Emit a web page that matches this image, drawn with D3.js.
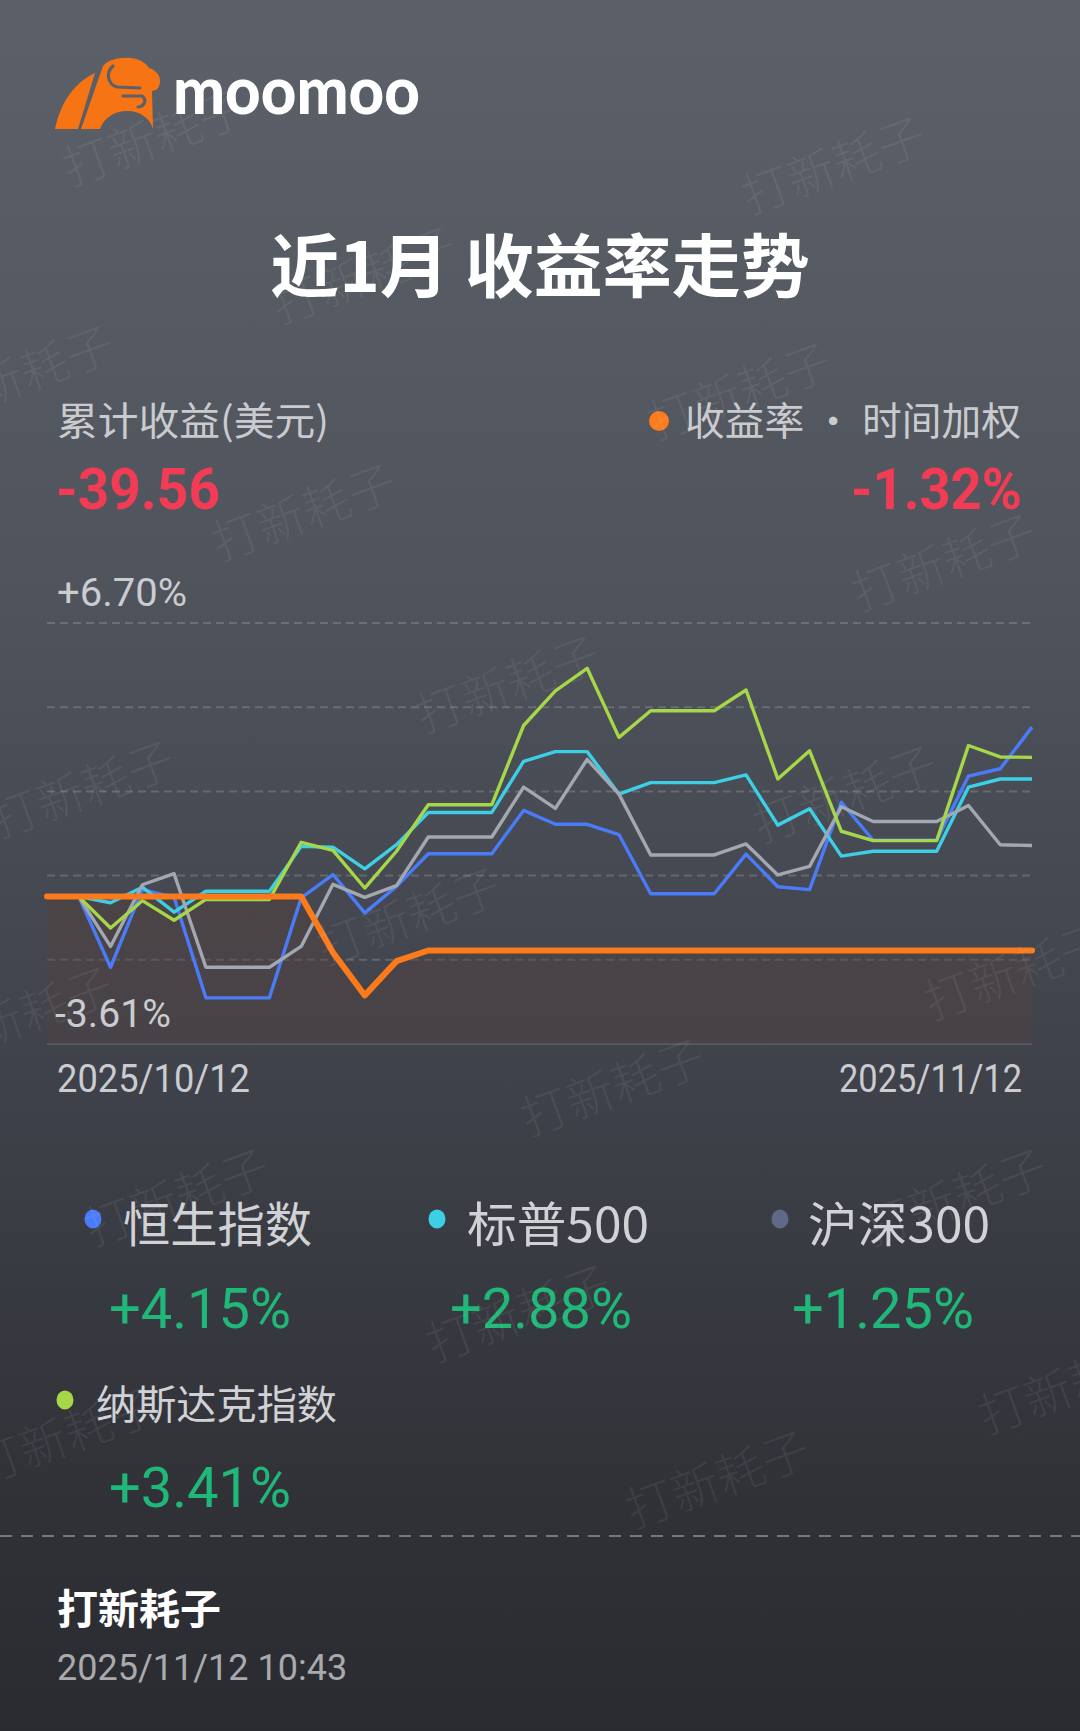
<!DOCTYPE html>
<html>
<head>
<meta charset="utf-8">
<script src="https://cdn.jsdelivr.net/npm/d3@7"></script>
<style>
  html, body { margin: 0; padding: 0; background: #2b2c31; }
  svg { display: block; }
  text { font-family: "Noto Sans CJK SC", Roboto, sans-serif; }
  .num { font-family: Roboto, "Noto Sans CJK SC", sans-serif; }
</style>
</head>
<body>
<svg id="card" width="1080" height="1731"></svg>
<script>
// daily points, 2025/10/12 .. 2025/11/12
var dates = [
  "2025-10-12", "2025-10-13", "2025-10-14", "2025-10-15", "2025-10-16", "2025-10-17", "2025-10-18", "2025-10-19",
  "2025-10-20", "2025-10-21", "2025-10-22", "2025-10-23", "2025-10-24", "2025-10-25", "2025-10-26", "2025-10-27",
  "2025-10-28", "2025-10-29", "2025-10-30", "2025-10-31", "2025-11-01", "2025-11-02", "2025-11-03", "2025-11-04",
  "2025-11-05", "2025-11-06", "2025-11-07", "2025-11-08", "2025-11-09", "2025-11-10", "2025-11-11", "2025-11-12"
];

// 收益率 · 时间加权 (%)
var portfolio = [0, 0, 0, 0, 0, 0, 0, 0, 0, -1.37, -2.42, -1.58, -1.32, -1.32, -1.32, -1.32,
  -1.32, -1.32, -1.32, -1.32, -1.32, -1.32, -1.32, -1.32, -1.32, -1.32, -1.32, -1.32, -1.32, -1.32, -1.32, -1.32];

// benchmark indexes (%), no point on the first day
var hsi = [null, 0, -1.73, 0.17, -0.02, -2.48, -2.48, -2.48, -0.03, 0.54, -0.40, 0.25, 1.05, 1.05, 1.05, 2.11,
  1.77, 1.77, 1.52, 0.07, 0.07, 0.07, 1.04, 0.24, 0.17, 2.31, 1.38, 1.38, 1.38, 2.95, 3.13, 4.15];
var spx = [null, 0, -0.15, 0.23, -0.38, 0.13, 0.13, 0.13, 1.23, 1.21, 0.68, 1.27, 2.06, 2.06, 2.06, 3.31,
  3.55, 3.55, 2.51, 2.79, 2.79, 2.79, 2.98, 1.75, 2.15, 0.99, 1.11, 1.11, 1.11, 2.68, 2.88, 2.88];
var csi = [null, 0, -1.22, 0.29, 0.56, -1.73, -1.73, -1.73, -1.22, 0.30, -0.02, 0.27, 1.46, 1.46, 1.46, 2.68,
  2.16, 3.36, 2.51, 1.02, 1.02, 1.02, 1.29, 0.53, 0.74, 2.20, 1.84, 1.84, 1.84, 2.23, 1.27, 1.25];
var ndx = [null, 0, -0.77, -0.10, -0.58, -0.07, -0.07, -0.07, 1.33, 1.13, 0.21, 1.11, 2.25, 2.25, 2.25, 4.19,
  5.04, 5.59, 3.90, 4.55, 4.55, 4.55, 5.06, 2.88, 3.57, 1.60, 1.37, 1.37, 1.37, 3.70, 3.42, 3.41];

var indexNames = ["恒生指数", "标普500", "沪深300", "纳斯达克指数"];
var indexReturns = ["+4.15%", "+2.88%", "+1.25%", "+3.41%"];

var yDomain = [-3.61, 6.70];
var yTickLabels = ["+6.70%", "-3.61%"];
var xTickLabels = ["2025/10/12", "2025/11/12"];

var totalProfit = "-39.56";
var totalReturn = "-1.32%";

var series = [
  {name: indexNames[0], values: hsi, color: "#4a7bf8", dot: "#4a7bf8"},
  {name: indexNames[1], values: spx, color: "#3ccfe6", dot: "#3ccfe6"},
  {name: indexNames[2], values: csi, color: "#a2a7b2", dot: "#5e6a86"},
  {name: indexNames[3], values: ndx, color: "#a5d748", dot: "#a5d748"}
];

var W = 1080, H = 1731;
var svg = d3.select("#card");
var defs = svg.append("defs");

var bg = defs.append("linearGradient").attr("id", "bg")
    .attr("x1", 0).attr("y1", 0).attr("x2", 0).attr("y2", 1);
bg.append("stop").attr("offset", "0%").attr("stop-color", "#5c6068");
bg.append("stop").attr("offset", "33%").attr("stop-color", "#50545c");
bg.append("stop").attr("offset", "62%").attr("stop-color", "#3f424a");
bg.append("stop").attr("offset", "86%").attr("stop-color", "#313238");
bg.append("stop").attr("offset", "100%").attr("stop-color", "#2a2b30");

var under = defs.append("linearGradient").attr("id", "under")
    .attr("x1", 0).attr("y1", 0).attr("x2", 0).attr("y2", 1);
under.append("stop").attr("offset", "0%").attr("stop-color", "rgb(84,62,58)").attr("stop-opacity", 0.42);
under.append("stop").attr("offset", "100%").attr("stop-color", "rgb(84,66,66)").attr("stop-opacity", 0.38);

svg.append("rect").attr("width", W).attr("height", H).attr("fill", "url(#bg)");

// logo
var logo = svg.append("g");
logo.append("path")
    .attr("d", "M55,129 C59,108 71,84 95,73 L78,129 Z")
    .attr("fill", "#f77414");
logo.append("path")
    .attr("d", "M81,129 L103,66 C108,60 118,57 131,58 C140,59 146,63 149,68 C153,69 157,72 159,76 " +
               "C161,81 160,87 156,90 L152,91 L153,129 C150,118 140,111 127,111 C114,111 104,118 100,129 Z")
    .attr("fill", "#f77414");
logo.append("path")
    .attr("d", "M113,66 C106,72 107,84 117,87 L140,88 M123,96 L142,96 C147,100 145,106 138,107")
    .attr("fill", "none").attr("stroke", "#5c6068").attr("stroke-width", 3.2).attr("stroke-linecap", "round");
logo.append("text")
    .attr("x", 173).attr("y", 114)
    .attr("textLength", 247).attr("lengthAdjust", "spacingAndGlyphs")
    .style("font-family", "Lato, sans-serif").style("font-weight", 900)
    .attr("font-size", 66).attr("fill", "#ffffff")
    .text("moomoo");

svg.append("text")
    .attr("x", 540).attr("y", 292).attr("text-anchor", "middle")
    .attr("font-size", 69).attr("font-weight", 700).attr("fill", "#ffffff")
    .text("近1月 收益率走势");

// header figures
svg.append("text")
    .attr("x", 57).attr("y", 435)
    .attr("font-size", 39).attr("fill", "#c9cbcf")
    .attr("textLength", 272).attr("lengthAdjust", "spacingAndGlyphs")
    .text("累计收益(美元)");
svg.append("text").attr("class", "num")
    .attr("x", 56).attr("y", 509)
    .attr("font-size", 58).attr("font-weight", 700).attr("fill", "#f23b55")
    .attr("textLength", 164).attr("lengthAdjust", "spacingAndGlyphs")
    .text(totalProfit);

svg.append("text")
    .attr("x", 1021).attr("y", 435).attr("text-anchor", "end")
    .attr("font-size", 39).attr("fill", "#c9cbcf")
    .attr("textLength", 336).attr("lengthAdjust", "spacingAndGlyphs")
    .text("收益率 · 时间加权");
svg.append("circle").attr("cx", 659).attr("cy", 421).attr("r", 10).attr("fill", "#fb7b1d");
svg.append("text").attr("class", "num")
    .attr("x", 1022).attr("y", 509).attr("text-anchor", "end")
    .attr("font-size", 58).attr("font-weight", 700).attr("fill", "#f23b55")
    .attr("textLength", 171).attr("lengthAdjust", "spacingAndGlyphs")
    .text(totalReturn);

// chart
var x = d3.scaleTime()
    .domain(d3.extent(dates, function(d) { return new Date(d); }))
    .range([47, 1032]);
var y = d3.scaleLinear().domain(yDomain).range([1044, 623]);

var grid = svg.append("g");
var gridVals = d3.range(6).map(function(i) { return yDomain[1] - i * (yDomain[1] - yDomain[0]) / 5; });
grid.selectAll("line").data(gridVals).join("line")
    .attr("x1", 47).attr("x2", 1032)
    .attr("y1", function(d) { return y(d); }).attr("y2", function(d) { return y(d); })
    .attr("stroke", function(d, i) { return i < 5 ? "rgba(255,255,255,0.17)" : "rgba(255,255,255,0.13)"; })
    .attr("stroke-width", 2)
    .attr("stroke-dasharray", function(d, i) { return i < 5 ? "8,5" : null; });

var points = dates.map(function(d, i) { return {date: new Date(d), v: portfolio[i]}; });

svg.append("path")
    .datum(points)
    .attr("fill", "url(#under)")
    .attr("d", d3.area()
        .x(function(d) { return x(d.date); })
        .y0(y(yDomain[0]))
        .y1(function(d) { return y(d.v); }));

var line = d3.line()
    .defined(function(d) { return d.v != null; })
    .x(function(d) { return x(d.date); })
    .y(function(d) { return y(d.v); });

svg.append("g").selectAll("path")
    .data(series)
    .join("path")
    .attr("fill", "none")
    .attr("stroke", function(s) { return s.color; })
    .attr("stroke-width", 3.4)
    .attr("stroke-linejoin", "round")
    .attr("d", function(s) {
      return line(dates.map(function(d, i) { return {date: new Date(d), v: s.values[i]}; }));
    });

svg.append("path")
    .datum(points)
    .attr("fill", "none")
    .attr("stroke", "#fb7a1c")
    .attr("stroke-width", 6)
    .attr("stroke-linejoin", "round")
    .attr("stroke-linecap", "round")
    .attr("d", line);

// axis labels
svg.append("text").attr("class", "num")
    .attr("x", 57).attr("y", 606)
    .attr("font-size", 39).attr("fill", "#caccd0")
    .attr("textLength", 130).attr("lengthAdjust", "spacingAndGlyphs")
    .text(yTickLabels[0]);
svg.append("text").attr("class", "num")
    .attr("x", 55).attr("y", 1027)
    .attr("font-size", 39).attr("fill", "#caccd0")
    .attr("textLength", 116).attr("lengthAdjust", "spacingAndGlyphs")
    .text(yTickLabels[1]);
svg.append("text").attr("class", "num")
    .attr("x", 57).attr("y", 1092)
    .attr("font-size", 38).attr("fill", "#caccd0")
    .attr("textLength", 193).attr("lengthAdjust", "spacingAndGlyphs")
    .text(xTickLabels[0]);
svg.append("text").attr("class", "num")
    .attr("x", 1022).attr("y", 1092).attr("text-anchor", "end")
    .attr("font-size", 38).attr("fill", "#caccd0")
    .attr("textLength", 183).attr("lengthAdjust", "spacingAndGlyphs")
    .text(xTickLabels[1]);

// index legend
var slots = [
  {dot: [93, 1219], label: [123, 1242], size: 48, len: 189, value: [200, 1328]},
  {dot: [437, 1219], label: [467, 1242], size: 48, len: 182, value: [541, 1328]},
  {dot: [780, 1219], label: [808, 1242], size: 48, len: 182, value: [883, 1328]},
  {dot: [65, 1400], label: [96, 1419], size: 40, len: 241, value: [200, 1507]}
];

var legend = svg.append("g").selectAll("g")
    .data(series)
    .join("g");
legend.append("ellipse")
    .attr("cx", function(s, i) { return slots[i].dot[0]; })
    .attr("cy", function(s, i) { return slots[i].dot[1]; })
    .attr("rx", 8.5).attr("ry", 9.5)
    .attr("fill", function(s) { return s.dot; });
legend.append("text")
    .attr("x", function(s, i) { return slots[i].label[0]; })
    .attr("y", function(s, i) { return slots[i].label[1]; })
    .attr("font-size", function(s, i) { return slots[i].size; })
    .attr("textLength", function(s, i) { return slots[i].len; })
    .attr("lengthAdjust", "spacingAndGlyphs")
    .attr("fill", "#d0d2d6")
    .text(function(s) { return s.name; });
legend.append("text").attr("class", "num")
    .attr("x", function(s, i) { return slots[i].value[0]; })
    .attr("y", function(s, i) { return slots[i].value[1]; })
    .attr("text-anchor", "middle")
    .attr("font-size", 56)
    .attr("fill", "#1fb878")
    .text(function(s, i) { return indexReturns[i]; });

// footer
svg.append("line")
    .attr("x1", 0).attr("x2", W).attr("y1", 1536).attr("y2", 1536)
    .attr("stroke", "#76787d").attr("stroke-width", 2).attr("stroke-dasharray", "12,9");
svg.append("text")
    .attr("x", 57).attr("y", 1624)
    .attr("font-size", 41).attr("font-weight", 700).attr("fill", "#ffffff")
    .text("打新耗子");
svg.append("text").attr("class", "num")
    .attr("x", 57).attr("y", 1680)
    .attr("font-size", 36).attr("fill", "#a8aaae")
    .text("2025/11/12 10:43");

// watermark
var marks = [[155, 138], [834, 166], [364, 276], [22, 375], [740, 392], [304, 513], [944, 563], [508, 685],
  [83, 790], [845, 795], [409, 917], [1016, 972], [22, 1016], [613, 1088], [177, 1198], [955, 1198],
  [519, 1314], [1071, 1386], [66, 1436], [718, 1480]];
svg.append("g").selectAll("text")
    .data(marks)
    .join("text")
    .attr("transform", function(d) { return "translate(" + d[0] + "," + d[1] + ") rotate(-20)"; })
    .attr("text-anchor", "middle").attr("dy", "0.35em")
    .attr("font-size", 48).attr("font-weight", 300)
    .attr("fill", "rgba(255,255,255,0.07)")
    .text("打新耗子");
</script>
</body>
</html>
